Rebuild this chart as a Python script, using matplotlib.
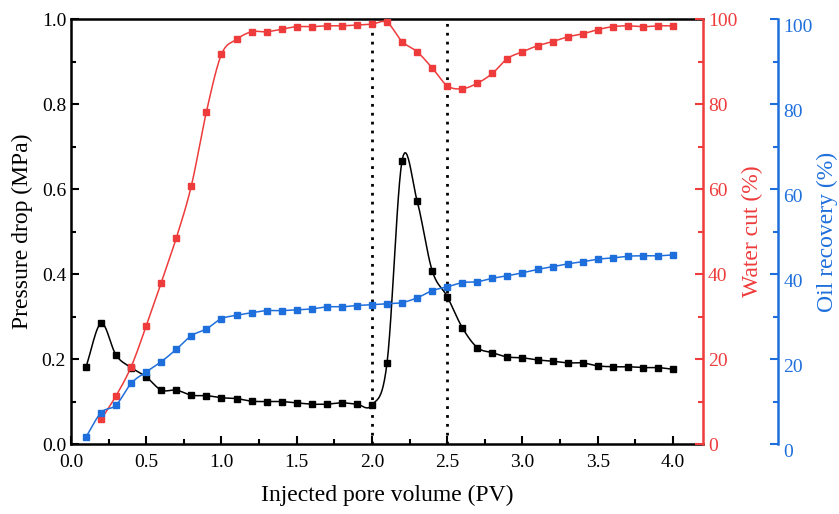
import numpy as np
import matplotlib
matplotlib.use('Agg')
import matplotlib.pyplot as plt
import matplotlib.transforms as mtransforms
from matplotlib.ticker import MultipleLocator, FormatStrFormatter

plt.rcParams['font.family'] = ['Liberation Serif', 'DejaVu Serif']

pv = np.round(np.arange(0.1, 4.01, 0.1), 1)

pressure = [0.182, 0.284, 0.209, 0.180, 0.158, 0.127, 0.127, 0.115, 0.114, 0.109,
            0.107, 0.101, 0.100, 0.100, 0.097, 0.094, 0.094, 0.097, 0.094, 0.092,
            0.191, 0.667, 0.572, 0.408, 0.347, 0.274, 0.227, 0.215, 0.205, 0.203,
            0.198, 0.195, 0.191, 0.191, 0.184, 0.182, 0.182, 0.180, 0.180, 0.176]

pv_wc = pv[1:]
water_cut = [5.8, 11.4, 18.2, 27.8, 38.0, 48.5, 60.8, 78.2, 91.7,
             95.2, 97.0, 97.0, 97.6, 98.2, 98.2, 98.4, 98.4, 98.6, 98.8,
             99.2, 94.7, 92.3, 88.5, 84.3, 83.6, 84.9, 87.2, 90.7, 92.3,
             93.7, 94.7, 95.8, 96.5, 97.5, 98.2, 98.4, 98.2, 98.4, 98.4]

oil_recovery = [1.7, 7.4, 9.2, 14.3, 17.0, 19.4, 22.3, 25.5, 27.1, 29.5,
                30.3, 30.9, 31.4, 31.4, 31.6, 31.8, 32.3, 32.3, 32.6, 32.8,
                33.0, 33.3, 34.4, 36.1, 37.0, 38.0, 38.2, 39.0, 39.6, 40.3,
                41.1, 41.7, 42.4, 42.9, 43.5, 43.8, 44.2, 44.3, 44.3, 44.5]

switch_pv = [2.0, 2.5]

red = '#EE3B3B'
blue = '#1E6FDC'


def smooth(x, y, n=12):
    # catmull-rom curve through the points, only for drawing the line
    x = np.asarray(x, float)
    y = np.asarray(y, float)
    px = np.concatenate([[2 * x[0] - x[1]], x, [2 * x[-1] - x[-2]]])
    py = np.concatenate([[2 * y[0] - y[1]], y, [2 * y[-1] - y[-2]]])
    t = np.linspace(0, 1, n, endpoint=False)
    xs, ys = [], []
    for i in range(1, len(px) - 2):
        for p, out in ((px, xs), (py, ys)):
            p0, p1, p2, p3 = p[i - 1], p[i], p[i + 1], p[i + 2]
            out.extend(0.5 * (2 * p1 + (-p0 + p2) * t
                              + (2 * p0 - 5 * p1 + 4 * p2 - p3) * t ** 2
                              + (-p0 + 3 * p1 - 3 * p2 + p3) * t ** 3))
    xs.append(x[-1])
    ys.append(y[-1])
    return np.array(xs), np.array(ys)


fig = plt.figure(figsize=(8.39, 5.14), dpi=100)
fig.patch.set_facecolor('white')
ax = fig.add_subplot(111)
fig.subplots_adjust(left=0.0846, right=0.838, top=0.963, bottom=0.136)

ax2 = ax.twinx()
ax3 = ax.twinx()
ax3.spines['right'].set_position(('axes', 1.119))

for xv in switch_pv:
    ax.axvline(xv, color='black', linestyle=(0, (1, 2.2)), linewidth=2, zorder=1)

ms = 4.5
lw = 1.1

sx, sy = smooth(pv, pressure)
ax.plot(sx, sy, color='black', linewidth=lw, zorder=3)
ax.plot(pv, pressure, 's', color='black', markersize=ms, zorder=4)

sx, sy = smooth(pv_wc, water_cut)
ax2.plot(sx, sy, color=red, linewidth=lw)
ax2.plot(pv_wc, water_cut, 's', color=red, markersize=ms)

sx, sy = smooth(pv, oil_recovery)
ax3.plot(sx, sy, color=blue, linewidth=lw)
ax3.plot(pv, oil_recovery, 's', color=blue, markersize=ms)

ax.set_xlim(0, 4.2)
ax.set_ylim(0, 1.0)
ax2.set_ylim(0, 100)
ax3.set_ylim(0, 100)

ax.xaxis.set_major_locator(MultipleLocator(0.5))
ax.xaxis.set_minor_locator(MultipleLocator(0.25))
ax.yaxis.set_major_locator(MultipleLocator(0.2))
ax.yaxis.set_minor_locator(MultipleLocator(0.1))
ax.xaxis.set_major_formatter(FormatStrFormatter('%.1f'))
ax.yaxis.set_major_formatter(FormatStrFormatter('%.1f'))
for a in (ax2, ax3):
    a.yaxis.set_major_locator(MultipleLocator(20))
    a.yaxis.set_minor_locator(MultipleLocator(10))

ax.tick_params(which='both', direction='in', top=False, right=False,
               labelsize=14, width=1.5)
ax.tick_params(which='major', length=6)
ax.tick_params(which='minor', length=3.5)
ax.tick_params(axis='x', pad=7)

for a, c in ((ax2, red), (ax3, blue)):
    a.tick_params(which='both', direction='in', colors=c, labelsize=14, width=1.5)
    a.tick_params(which='major', length=6)
    a.tick_params(which='minor', length=3.5)
    a.spines['right'].set_color(c)
    a.spines['right'].set_linewidth(1.8)
    for s in ('top', 'left', 'bottom'):
        a.spines[s].set_visible(False)

for s in ('top', 'left', 'bottom'):
    ax.spines[s].set_linewidth(1.8)
ax.spines['right'].set_visible(False)

# blue labels sit a little lower in the original
offset = mtransforms.ScaledTranslation(0, -4.5 / 72, fig.dpi_scale_trans)
for lab in ax3.get_yticklabels():
    lab.set_transform(lab.get_transform() + offset)

ax.set_xlabel('Injected pore volume (PV)', fontsize=17, labelpad=10)
ax.set_ylabel('Pressure drop (MPa)', fontsize=17, labelpad=6)
ax2.set_ylabel('Water cut (%)', fontsize=17, color=red, labelpad=3)
ax3.set_ylabel('Oil recovery (%)', fontsize=17, color=blue, labelpad=3)

plt.savefig('out.png', dpi=100)
plt.close(fig)
